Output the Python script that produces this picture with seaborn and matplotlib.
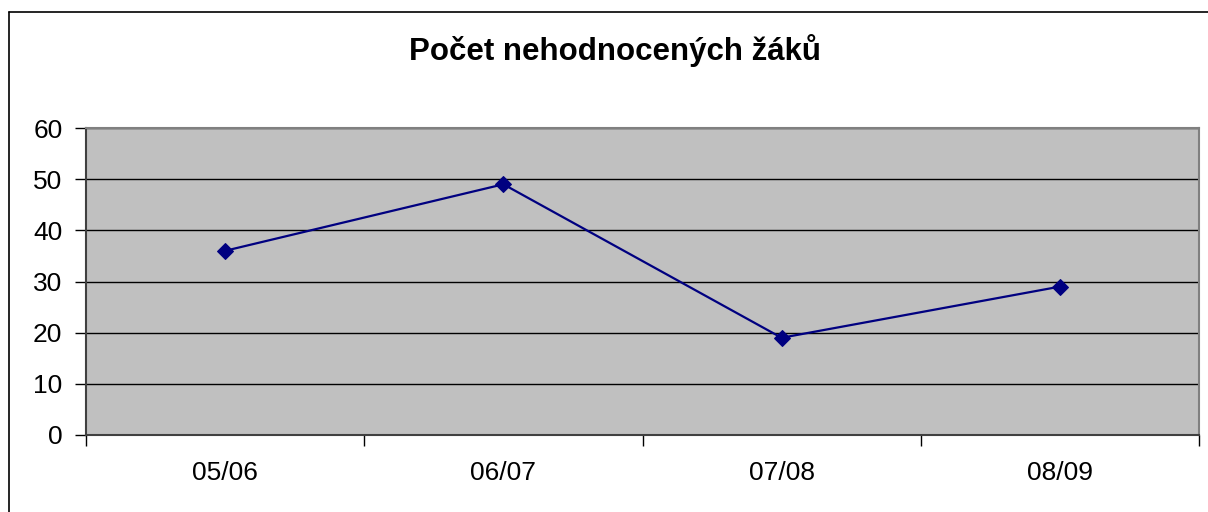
import matplotlib
matplotlib.use('Agg')
import matplotlib.pyplot as plt
import seaborn as sns
import pandas as pd
from matplotlib.lines import Line2D

# Data
years = ['05/06', '06/07', '07/08', '08/09']
counts = [36, 49, 19, 29]

df = pd.DataFrame({'pos': range(len(years)), 'count': counts})

sns.set_style('white')
plt.rcParams['font.family'] = ['Liberation Sans', 'DejaVu Sans']
plt.rcParams['text.color'] = 'black'
plt.rcParams['xtick.color'] = 'black'
plt.rcParams['ytick.color'] = 'black'

fig = plt.figure(figsize=(12.08, 5.12), dpi=100)
ax = fig.add_axes([86 / 1208, 1 - 435 / 512, 1113 / 1208, 307 / 512])
ax.set_facecolor('#c0c0c0')

sns.lineplot(data=df, x='pos', y='count', ax=ax, color='#000080', linewidth=1.6,
             marker='D', markersize=8, markeredgecolor='#000080', zorder=3)

ax.set_xlim(-0.5, 3.5)
ax.set_ylim(0, 60)
ax.set_yticks(range(0, 61, 10))
ax.yaxis.grid(True, color='black', linewidth=1)
ax.set_axisbelow(True)

# category labels between tick marks, Excel style
ax.set_xticks([-0.5, 0.5, 1.5, 2.5, 3.5])
ax.set_xticklabels([])
ax.set_xticks(range(len(years)), minor=True)
ax.set_xticklabels(years, minor=True)
ax.tick_params(axis='x', which='major', bottom=True, length=8, width=1, color='black', direction='out')
ax.tick_params(axis='x', which='minor', bottom=True, length=0, pad=19, labelsize=19, labelcolor='black')
ax.tick_params(axis='y', left=True, length=8, width=1, color='black', direction='out', pad=9,
               labelsize=19, labelcolor='black')
ax.set_xlabel('')
ax.set_ylabel('')

for side in ['top', 'right']:
    ax.spines[side].set_color('#808080')
    ax.spines[side].set_linewidth(1.5)
for side in ['left', 'bottom']:
    ax.spines[side].set_color('#404040')
    ax.spines[side].set_linewidth(1.5)

fig.text(615 / 1208, 1 - 51 / 512, 'Počet nehodnocených žáků', ha='center', va='center',
         fontsize=22.5, fontweight='bold', color='black')

# chart frame (left and top edges visible)
fig.add_artist(Line2D([9 / 1208, 9 / 1208], [0, 1 - 12 / 512], color='black', linewidth=1.2))
fig.add_artist(Line2D([9 / 1208, 1], [1 - 12 / 512, 1 - 12 / 512], color='black', linewidth=1.2))

fig.savefig('out.png', dpi=100)
